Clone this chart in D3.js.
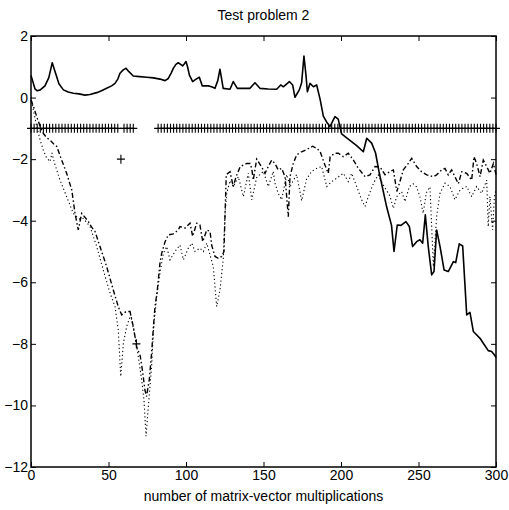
<!DOCTYPE html>
<html>
<head>
<meta charset="utf-8">
<script src="https://cdn.jsdelivr.net/npm/d3@7"></script>
<style>
body { margin: 0; background: #fff; }
text { font-family: "Liberation Sans", Arial, Helvetica, sans-serif; fill: #000; }
</style>
</head>
<body>
<div id="chart"></div>
<script>
// tick labels
var xTicks = [0, 50, 100, 150, 200, 250, 300];
var yTicks = [2, 0, -2, -4, -6, -8, -10, -12];

// solid line (top curve)
var solid = [[0,0.72],[1,0.55],[2.6,0.28],[4,0.22],[6,0.25],[9,0.38],[11.5,0.65],[13.7,1.13],[15.5,0.85],[18,0.45],
  [20.9,0.25],[24,0.18],[27.3,0.14],[31,0.12],[34.8,0.08],[38,0.1],[42.4,0.16],[45.5,0.22],[48.8,0.3],[52,0.38],
  [54.2,0.46],[56,0.6],[57.4,0.79],[59.5,0.9],[61.3,0.95],[63,0.85],[66,0.7],[70,0.68],[74.6,0.66],[79,0.64],
  [83.2,0.6],[86.5,0.55],[88.6,0.62],[90.5,0.8],[91.8,0.95],[93.5,1.08],[95,1.13],[96.5,1.08],[97.8,1.03],[99,1.1],
  [100,1.17],[101,1.0],[102.2,0.73],[104.3,0.52],[106.5,0.6],[108.6,0.66],[110.5,0.38],[114.4,0.38],[116.5,0.35],[118.7,0.3],
  [120.5,0.55],[121.9,0.92],[123,0.6],[124,0.3],[128.4,0.27],[130.5,0.52],[133.1,0.3],[137,0.3],[141.3,0.3],[144.5,0.48],
  [147.7,0.3],[153,0.28],[158.5,0.27],[161.1,0.41],[162.8,0.35],[166.7,0.52],[168.8,0.41],[170.3,0.01],[173.1,0.25],[174.6,0.48],
  [176.1,1.35],[177.4,0.73],[178.3,0.19],[180,0.46],[182.2,0.35],[184.3,0.41],[186.5,-0.05],[188.6,-0.6],[190.8,-0.8],[192.9,-0.94],
  [196.1,-0.62],[198.2,-0.7],[200.4,-1.18],[204.7,-1.35],[210.1,-1.56],[214.4,-1.76],[216.6,-1.32],[219.8,-1.48],[222.3,-1.8],[224.5,-2.4],
  [229.4,-3.54],[232.6,-4.15],[234.2,-5.0],[236.3,-4.14],[238.7,-4.15],[241.9,-4.03],[244.1,-4.19],[246.2,-4.84],[248.8,-4.68],[250.9,-4.62],
  [252.7,-4.73],[254.4,-3.81],[256.3,-4.84],[258.5,-5.76],[260,-5.65],[261.7,-4.3],[263.9,-4.84],[266.5,-5.6],[269.2,-5.65],[272.5,-5.33],
  [274,-5.36],[276.3,-4.75],[278.5,-4.82],[281.1,-7.06],[283.2,-6.98],[285.4,-7.6],[289.7,-7.82],[291.8,-7.98],[295,-8.22],[297.2,-8.25],
  [299.4,-8.39],[300,-8.45]];

// dash-dot line
var dashdot = [[0,-0.08],[2,-0.35],[3.7,-0.62],[6,-0.95],[7.9,-1.16],[10,-1.3],[12.3,-1.38],[14.5,-1.5],[16.6,-1.59],[19.8,-2.03],
  [23,-2.46],[26.3,-3.0],[28.4,-3.76],[30.5,-4.3],[32.7,-3.76],[35,-3.9],[37,-4.03],[39,-4.2],[41.3,-4.35],[44.5,-4.84],
  [48.8,-5.49],[53.1,-6.25],[56.3,-6.79],[58.5,-7.06],[61.3,-6.95],[63.9,-6.95],[66,-7.44],[68.2,-8.09],[70.5,-8.4],[72,-8.9],
  [73.5,-9.5],[74.6,-9.71],[75.5,-9.4],[76.3,-9.17],[77.8,-8.3],[78.9,-7.5],[80,-6.79],[81.5,-6.25],[83.2,-5.38],[84.3,-5.06],
  [86.5,-4.68],[88.6,-4.46],[91.8,-4.43],[95,-4.3],[96.1,-4.19],[99.4,-4.24],[102.6,-4.08],[104.3,-4.51],[106.9,-4.08],[109,-4.14],
  [110.8,-4.68],[113.4,-4.3],[115.5,-4.35],[116.6,-4.8],[118.7,-5.16],[120.8,-5.22],[123,-5.16],[124.5,-5.0],[125.2,-3.76],[126,-2.5],
  [128.4,-2.41],[130.5,-2.89],[132.3,-2.57],[135,-2.24],[139.2,-2.14],[141.3,-2.14],[142.4,-2.3],[143.4,-2.68],[145.6,-2.0],[148.8,-2.26],
  [151,-2.46],[153.1,-2.24],[155.3,-2.03],[157.4,-2.14],[159.5,-2.35],[161.7,-2.3],[163.9,-2.57],[166,-3.87],[167.1,-2.57],[169.2,-2.14],
  [171.4,-1.86],[174.6,-1.76],[177.8,-1.69],[181.7,-1.58],[184.3,-1.65],[186.5,-1.75],[189.7,-2.2],[191.8,-2.46],[193,-1.92],[196.1,-1.81],
  [198.3,-1.81],[201.5,-1.92],[204.7,-1.81],[208,-2.03],[211.2,-2.3],[215.5,-2.57],[218.7,-2.51],[222,-2.24],[225.2,-2.25],[228.4,-2.51],
  [231.6,-2.4],[233.8,-2.35],[236,-3.05],[238,-2.73],[240.2,-2.35],[243.4,-2.14],[245.6,-1.97],[248.8,-2.24],[252,-2.41],[255.3,-2.51],
  [259.6,-2.57],[261.7,-2.51],[265,-2.35],[267.1,-2.3],[269.2,-2.51],[271.4,-2.35],[273.5,-2.57],[275.7,-2.8],[277.9,-2.41],[281.1,-2.46],
  [284.3,-2.68],[285.8,-1.92],[287.5,-2.14],[289.7,-2.57],[291.8,-2.03],[294,-2.24],[296.1,-2.46],[298.3,-2.14],[300,-2.5]];

// dotted line
var dotted = [[0,0],[1.5,-0.4],[3.7,-0.94],[6,-1.4],[7.9,-1.7],[10,-1.95],[12.3,-2.08],[13.5,-1.8],[15,-2.1],[18.7,-2.68],
  [23,-3.22],[27.3,-3.76],[29.5,-3.87],[31.5,-3.95],[33.7,-3.92],[38.1,-4.19],[42.4,-4.84],[46.6,-5.6],[51,-6.35],[54.2,-6.79],
  [56.3,-7.55],[57.9,-9.06],[59.6,-7.98],[61.7,-7.44],[64.3,-7.06],[67.1,-7.76],[69.2,-8.41],[71.4,-9.17],[72.9,-9.82],[74.2,-11.0],
  [75.7,-10.04],[77.8,-8.74],[78.9,-7.65],[80,-7.0],[81.1,-6.47],[83.2,-5.7],[85.4,-5.06],[87.5,-4.84],[89.7,-5.27],[92.9,-5.0],
  [96.1,-4.79],[98.3,-5.27],[101.5,-4.89],[103.7,-4.73],[105.8,-5.0],[109,-4.89],[111.2,-5.0],[113.4,-4.73],[115.5,-5.11],[117.6,-5.49],
  [119.8,-6.79],[121.9,-6.25],[124,-5.27],[125.2,-3.76],[126.3,-3.1],[128.4,-2.7],[130.5,-2.89],[133.8,-2.57],[137,-3.22],[140.2,-2.46],
  [142.4,-3.32],[145.6,-2.6],[149.9,-2.4],[153.1,-2.89],[156.3,-2.4],[157.4,-2.78],[159.5,-3.11],[161.7,-3.32],[165,-2.5],[167.1,-2.89],
  [171.4,-2.5],[174.6,-3.35],[177.8,-2.65],[181,-2.4],[184.3,-2.3],[187.5,-2.24],[190.8,-2.89],[194,-2.73],[197.2,-2.62],[201.5,-2.46],
  [204.7,-2.73],[206.9,-2.46],[210.1,-2.89],[213.3,-3.32],[215.5,-3.54],[217.6,-3.22],[220.8,-2.8],[224,-2.51],[227.3,-2.84],[231.6,-3.2],
  [233.8,-3.6],[235.9,-3.22],[239.1,-3.05],[241.3,-3.38],[244.1,-2.89],[246.5,-2.8],[248.8,-2.9],[250.9,-3.22],[253,-3.76],[255,-3.1],
  [257.4,-2.9],[259.6,-5.49],[261.7,-3.86],[263.9,-3.11],[267.1,-2.78],[270.3,-2.89],[273.5,-3.32],[276.8,-3.0],[281.1,-2.89],[284.3,-3.22],
  [287.5,-2.89],[290.8,-3.11],[294,-2.68],[295,-4.19],[296.1,-3.22],[297.8,-4.3],[299,-3.2],[300,-3.0]];

// "+" markers: iterations along y = -1, plus two stray ones
var plusX = [0,2,4,6,8,10,12,14,16,18,20,22,24,26,28,30,32,34,36,38,40,42,44,46,48,50,52,54,56,
  60,62,64,66,
  82,84,86,88,90,92,94,96,98,100,102,104,106,108,110,112,114,116,118,120,122,124,126,128,130,
  132,134,136,138,140,142,144,146,148,150,152,154,156,158,160,162,164,166,168,170,172,174,176,178,180,
  182,184,186,188,190,192,194,196,198,200,202,204,206,208,210,212,214,216,218,220,222,224,226,228,230,
  232,234,236,238,240,242,244,246,248,250,252,254,256,258,260,262,264,266,268,270,272,274,276,278,280,
  282,284,286,288,290,292,294,296,298,300];
var plusLevel = -1;
var plusExtra = [[58,-2],[68,-8]];

var margin = {top: 36, right: 13, bottom: 43, left: 31}
  , width = 509 - margin.left - margin.right
  , height = 510 - margin.top - margin.bottom;

var xScale = d3.scaleLinear()
    .domain([0, 300])
    .range([0, width]);

var yScale = d3.scaleLinear()
    .domain([-12, 2])
    .range([height, 0]);

var svg = d3.select("#chart").append("svg")
    .attr("width", width + margin.left + margin.right)
    .attr("height", height + margin.top + margin.bottom)
  .append("g")
    .attr("transform", "translate(" + margin.left + "," + margin.top + ")");

// axes, ticks pointing inward on all four sides
svg.append("g")
    .attr("class", "x axis")
    .attr("transform", "translate(0," + height + ")")
    .call(d3.axisBottom(xScale).tickValues(xTicks).tickSizeInner(-5).tickSizeOuter(0).tickPadding(3));

svg.append("g")
    .attr("class", "x axis top")
    .call(d3.axisTop(xScale).tickValues(xTicks).tickSizeInner(-5).tickSizeOuter(0).tickFormat(""));

svg.append("g")
    .attr("class", "y axis")
    .call(d3.axisLeft(yScale).tickValues(yTicks).tickSizeInner(-5).tickSizeOuter(0).tickPadding(3));

svg.append("g")
    .attr("class", "y axis right")
    .attr("transform", "translate(" + width + ",0)")
    .call(d3.axisRight(yScale).tickValues(yTicks).tickSizeInner(-5).tickSizeOuter(0).tickFormat(""));

svg.selectAll(".axis .domain").remove();
svg.selectAll(".axis line").attr("stroke", "#000").attr("stroke-width", 1);
svg.selectAll(".axis text").style("font-size", "14px").attr("fill", "#000");

svg.append("rect")
    .attr("x", 0).attr("y", 0)
    .attr("width", width).attr("height", height)
    .attr("fill", "none")
    .attr("stroke", "#000")
    .attr("stroke-width", 1.5);

var line = d3.line()
    .x(function(d) { return xScale(d[0]); })
    .y(function(d) { return yScale(d[1]); });

svg.append("path")
    .datum(dotted)
    .attr("fill", "none")
    .attr("stroke", "#000")
    .attr("stroke-width", 1.1)
    .attr("stroke-dasharray", "1.2,2.6")
    .attr("d", line);

svg.append("path")
    .datum(dashdot)
    .attr("fill", "none")
    .attr("stroke", "#000")
    .attr("stroke-width", 1.4)
    .attr("stroke-dasharray", "5,2.5,1.5,2.5")
    .attr("d", line);

svg.append("path")
    .datum(solid)
    .attr("fill", "none")
    .attr("stroke", "#000")
    .attr("stroke-width", 1.6)
    .attr("stroke-linejoin", "round")
    .attr("d", line);

var plusData = plusX.map(function(x) { return [x, plusLevel]; }).concat(plusExtra);

svg.selectAll(".plus").data(plusData).enter().append("path")
    .attr("class", "plus")
    .attr("transform", function(d) { return "translate(" + xScale(d[0]) + "," + yScale(d[1]) + ")"; })
    .attr("d", "M-4,0H4M0,-4.5V4.5")
    .attr("stroke", "#000")
    .attr("stroke-width", 1.1)
    .attr("fill", "none");

svg.append("text")
    .attr("x", width / 2)
    .attr("y", -16)
    .attr("text-anchor", "middle")
    .style("font-size", "14px")
    .text("Test problem 2");

svg.append("text")
    .attr("x", width / 2)
    .attr("y", height + 34)
    .attr("text-anchor", "middle")
    .style("font-size", "14px")
    .text("number of matrix-vector multiplications");
</script>
</body>
</html>
